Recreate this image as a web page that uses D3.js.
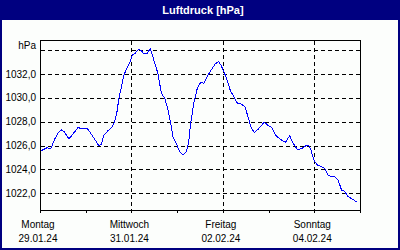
<!DOCTYPE html>
<html>
<head>
<meta charset="utf-8">
<script src="https://cdn.jsdelivr.net/npm/d3@7"></script>
<style>
  html, body { margin: 0; padding: 0; background: #fff; }
  svg { display: block; font-family: "Liberation Sans", Arial, sans-serif; }
</style>
</head>
<body>
<div id="chart"></div>
<script>
// hours since Mon 29.01.24 00:00 and pressure in hPa
const hours = [
  0.4, 2.5, 3.8, 5.6, 7.7, 9.5, 11.2, 12.6, 15.2, 17.2, 20.0, 22.2, 24.8, 26.6,
  28.7, 31.0, 32.2, 33.6, 35.7, 37.8, 38.9, 40.3, 41.3, 42.4, 44.1, 45.8, 47.6,
  48.5, 49.7, 51.8, 53.2, 54.6, 56.3, 57.9, 59.0, 60.2, 61.9, 63.7, 65.5, 67.2,
  68.6, 69.8, 71.5, 73.3, 75.1, 76.8, 78.1, 79.1, 80.9, 82.6, 84.3, 86.1, 87.8,
  89.9, 92.0, 93.8, 95.2, 96.9, 98.7, 100.1, 101.8, 103.6, 105.7, 107.5, 109.2,
  110.9, 112.7, 114.5, 116.2, 117.6, 119.4, 121.5, 123.6, 125.9, 126.8, 128.9,
  131.1, 132.8, 135.1, 137.2, 139.5, 141.2, 142.1, 143.0, 144.2, 145.6, 147.7,
  149.5, 151.2, 153.0, 154.8, 156.5, 158.3, 160.1, 161.7, 163.8, 166.6
];
const pressure = [
  1025.55, 1025.72, 1025.83, 1025.72, 1026.53, 1027.04, 1027.31, 1027.17, 1026.56,
  1026.95, 1027.51, 1027.40, 1027.42, 1027.04, 1026.53, 1025.97, 1026.11, 1026.89,
  1027.25, 1027.54, 1027.88, 1028.71, 1029.83, 1030.67, 1031.93, 1032.54, 1033.13,
  1033.60, 1033.69, 1034.08, 1033.94, 1033.69, 1033.75, 1034.13, 1033.60, 1032.90,
  1032.07, 1030.39, 1029.97, 1028.99, 1027.88, 1026.75, 1026.20, 1025.49, 1025.22,
  1025.49, 1026.33, 1027.88, 1029.69, 1030.81, 1031.28, 1031.23, 1031.79, 1032.35,
  1032.85, 1033.04, 1032.68, 1032.07, 1031.23, 1030.53, 1030.11, 1029.55, 1029.47,
  1029.27, 1028.43, 1027.46, 1027.09, 1027.37, 1027.65, 1027.98, 1027.73, 1027.54,
  1026.89, 1026.56, 1026.47, 1026.28, 1026.84, 1026.20, 1025.70, 1025.72, 1025.97,
  1025.97, 1025.70, 1025.22, 1024.65, 1024.38, 1024.23, 1024.10, 1023.54, 1023.40,
  1023.40, 1023.12, 1022.28, 1022.14, 1021.72, 1021.53, 1021.25
];
const yTicks = [1022, 1024, 1026, 1028, 1030, 1032, 1034];
const yLabels = ["1022,0", "1024,0", "1026,0", "1028,0", "1030,0", "1032,0", ""];
const title = "Luftdruck [hPa]";
const unit = "hPa";

const W = 400, H = 250;
const navy = "#000080";
const start = new Date(2024, 0, 29), end = new Date(2024, 1, 5);

const de = d3.timeFormatLocale({
  dateTime: "%A, der %e. %B %Y, %X", date: "%d.%m.%Y", time: "%H:%M:%S",
  periods: ["AM", "PM"],
  days: ["Sonntag", "Montag", "Dienstag", "Mittwoch", "Donnerstag", "Freitag", "Samstag"],
  shortDays: ["So", "Mo", "Di", "Mi", "Do", "Fr", "Sa"],
  months: ["Januar", "Februar", "März", "April", "Mai", "Juni", "Juli", "August", "September", "Oktober", "November", "Dezember"],
  shortMonths: ["Jan", "Feb", "Mrz", "Apr", "Mai", "Jun", "Jul", "Aug", "Sep", "Okt", "Nov", "Dez"]
});
const fmtDay = de.format("%A"), fmtDate = de.format("%d.%m.%y");

const data = hours.map((h, i) => ({ t: new Date(start.getTime() + h * 3600e3), v: pressure[i] }));

const x = d3.scaleTime().domain([start, end]).range([40, 360]);
const y = d3.scaleLinear().domain([1020.6, 1034.85]).range([210, 40]);

const svg = d3.select("#chart").append("svg")
  .attr("width", W).attr("height", H);

svg.append("rect").attr("width", W).attr("height", H).attr("fill", "#fcfefc");

// title bar + frame
svg.append("rect").attr("x", 0).attr("y", 0).attr("width", W).attr("height", 20).attr("fill", navy);
svg.append("rect").attr("x", 1).attr("y", 1).attr("width", W - 2).attr("height", H - 2)
  .attr("fill", "none").attr("stroke", navy).attr("stroke-width", 2);
svg.append("text").attr("x", 203).attr("y", 14).attr("text-anchor", "middle")
  .attr("fill", "#fff").attr("font-weight", "bold").attr("font-size", 11).text(title);

const grid = svg.append("g").attr("stroke", "#000").attr("stroke-dasharray", "4,3")
  .attr("shape-rendering", "crispEdges");

// horizontal grid
grid.selectAll("line.h").data(yTicks).join("line").attr("class", "h")
  .attr("x1", 41).attr("x2", 360)
  .attr("y1", d => Math.round(y(d)) + 0.5).attr("y2", d => Math.round(y(d)) + 0.5);

// vertical grid every second day
const days = d3.timeDay.range(start, d3.timeDay.offset(end, 1));
const gridDays = days.filter((d, i) => i % 2 === 0 && i > 0 && i < days.length - 1);
grid.selectAll("line.v").data(gridDays).join("line").attr("class", "v")
  .attr("x1", d => Math.round(x(d)) + 0.5).attr("x2", d => Math.round(x(d)) + 0.5)
  .attr("y1", 41).attr("y2", 210);

// pressure line
svg.append("path").datum(data)
  .attr("fill", "none").attr("stroke", "#0000ff").attr("stroke-width", 1)
  .attr("shape-rendering", "crispEdges")
  .attr("d", d3.line().x(d => x(d.t)).y(d => y(d.v)));

// plot frame
svg.append("rect").attr("x", 40.5).attr("y", 40.5).attr("width", 320).attr("height", 170)
  .attr("fill", "none").attr("stroke", "#000").attr("shape-rendering", "crispEdges");

// day ticks on the bottom
svg.append("g").attr("stroke", "#000").attr("shape-rendering", "crispEdges")
  .selectAll("line").data(days).join("line")
  .attr("x1", d => Math.round(x(d)) + 0.5).attr("x2", d => Math.round(x(d)) + 0.5)
  .attr("y1", 210).attr("y2", 213);

// y labels
svg.append("g").attr("font-size", 10).attr("fill", "#000").attr("text-anchor", "end")
  .selectAll("text").data(yTicks).join("text")
  .attr("x", 36).attr("y", d => y(d) + 3.5)
  .text((d, i) => yLabels[i]);
svg.append("text").attr("x", 36).attr("y", 48.5).attr("text-anchor", "end")
  .attr("font-size", 10).attr("fill", "#000").text(unit);

// x labels
const xl = svg.append("g").attr("font-size", 10).attr("fill", "#000").attr("text-anchor", "middle")
  .selectAll("g").data([start].concat(gridDays)).join("g")
  .attr("transform", d => `translate(${x(d) - 2},0)`);
xl.append("text").attr("y", 227.5).text(d => fmtDay(d));
xl.append("text").attr("y", 241.5).text(d => fmtDate(d));
</script>
</body>
</html>
